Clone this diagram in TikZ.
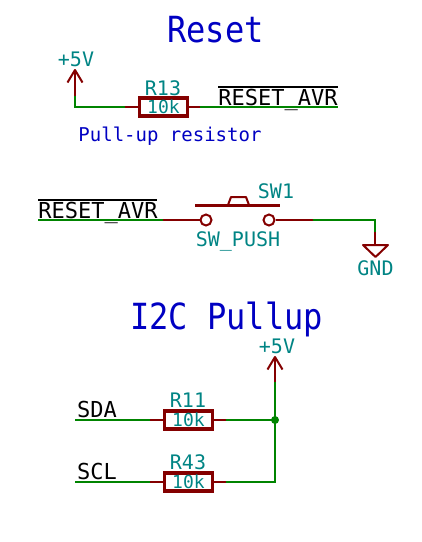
\documentclass[tikz,border=0pt]{standalone}
\usepackage{fontspec}
\setmainfont{DejaVu Sans Mono}
\newfontfamily\schfont{DejaVu Sans Mono}
\newfontfamily\titlefont[FakeStretch=0.89]{DejaVu Sans Mono}
\usetikzlibrary{positioning}
\definecolor{wiregreen}{RGB}{0,132,0}
\definecolor{partred}{RGB}{132,0,0}
\definecolor{fieldteal}{RGB}{0,132,132}
\definecolor{noteblue}{RGB}{0,0,194}

\begin{document}
\begin{tikzpicture}[
        x=1pt,
        y=-1pt,
        txt/.style={
          inner sep=0pt,
          anchor=base,
          font=\schfont\fontsize{20}{20}\selectfont
          },
        field/.style={
          txt,
          text=fieldteal
          },
        netname/.style={
          txt,
          text=black,
          font=\schfont\fontsize{22}{22}\selectfont
          },
        note/.style={
          txt,
          text=noteblue,
          font=\schfont\fontsize{19}{19}\selectfont
          },
        title/.style={
          txt,
          text=noteblue,
          font=\titlefont\fontsize{36}{36}\selectfont
          },
        res/.style={
          draw=partred,
          line width=3.5pt,
          minimum width=48pt,
          minimum height=18pt,
          inner sep=0pt,
          text=fieldteal,
          font=\schfont\fontsize{18}{18}\selectfont
          },
        contact/.style={
          draw=partred,
          line width=2pt,
          circle,
          minimum size=11pt,
          inner sep=0pt
          },
        wire/.style={
          draw=wiregreen,
          line width=2pt
          },
        pin/.style={
          draw=partred,
          line width=2pt
          },
        part/.style={
          draw=partred,
          line width=2pt,
          line join=round
          }
        ]
        \useasboundingbox (0,0) rectangle (422,542);

        % Reset
        \node[title] (resettitle) at (215.5,42) {Reset};
        \node[res] (rthirteen) at (163.5,107) {10k};
        \node[field] (rthirteenref) at (163,95) {R13};
        \node[field] (pwrone) at (76,66) {+5V};
        \node[netname] (netone) at (278,105) {RESET\_AVR};
        \node[note] (pullnote) at (170,141) {Pull-up resistor};
        \coordinate (pwronetip) at (75,70);
        \coordinate (pwronepin) at (75,96);
        \coordinate (pwronecorner) at (75,107);
        \coordinate (rthirteenl) at (125,107);
        \coordinate (rthirteenr) at (200,107);
        \coordinate (netoneend) at (338,107);
        \draw[wire] (pwronepin) -- (pwronecorner) -- (rthirteenl);
        \draw[pin] (rthirteenl) -- (rthirteen.west);
        \draw[pin] (rthirteen.east) -- (rthirteenr);
        \draw[wire] (rthirteenr) -- (netoneend);
        \draw[black,line width=2pt] (218,86.5) -- (338,86.5);

        % switch
        \node[netname] (nettwo) at (98,218) {RESET\_AVR};
        \node[contact] (swl) at (206,220) {};
        \node[contact] (swr) at (269,220) {};
        \node[field] (swref) at (276,198) {SW1};
        \node[field] (swval) at (238,246) {SW\_PUSH};
        \node[field] (gnd) at (375.5,275) {GND};
        \coordinate (nettwoend) at (38,220);
        \coordinate (swlpin) at (163,220);
        \coordinate (swrpin) at (313,220);
        \coordinate (gndcorner) at (375,220);
        \coordinate (gndpin) at (375,232);
        \coordinate (gndtop) at (375,245);
        \draw[wire] (nettwoend) -- (swlpin);
        \draw[pin] (swlpin) -- (swl);
        \draw[pin] (swr) -- (swrpin);
        \draw[wire] (swrpin) -- (gndcorner) -- (gndpin);
        \draw[pin] (gndpin) -- (gndtop);
        \draw[part] (363,245) -- (388,245) -- (375.5,257) -- cycle;
        \draw[partred,line width=3.5pt] (195,205.5) -- (280,205.5);
        \draw[part] (228,205) -- (231,197) -- (246,197) -- (249,205);
        \draw[black,line width=2pt] (38,199.5) -- (157,199.5);

        % I2C
        \node[title] (itwoctitle) at (226.5,329) {I2C Pullup};
        \node[field] (pwrtwo) at (277,353) {+5V};
        \coordinate (pwrtwotip) at (275,357);
        \coordinate (pwrtwopin) at (275,382);
        \coordinate (junction) at (275,420);
        \coordinate (bottomcorner) at (275,482);
        \foreach \rname/\rref/\rnet/\ry in {ra/R11/SDA/420,rb/R43/SCL/482}
        {
          \node[res] (\rname) at (188.5,\ry) {10k};
          \node[field] (\rname-ref) at (188,\ry-13) {\rref};
          \node[netname] (\rname-net) at (97,\ry-3) {\rnet};
          \coordinate (\rname-end) at (75,\ry);
          \coordinate (\rname-l) at (150,\ry);
          \coordinate (\rname-r) at (226,\ry);
          \draw[wire] (\rname-end) -- (\rname-l);
          \draw[pin] (\rname-l) -- (\rname.west);
          \draw[pin] (\rname.east) -- (\rname-r);
        }
        \draw[wire] (ra-r) -- (junction);
        \draw[wire] (rb-r) -- (bottomcorner) -- (pwrtwopin);
        \fill[wiregreen] (junction) circle (4);

        % power arrows
        \foreach \tip/\base in {pwronetip/pwronepin,pwrtwotip/pwrtwopin}
        {
          \draw[pin] (\tip) -- (\base);
          \draw[part] ([shift={(-7.5,12.5)}]\tip) -- (\tip) -- ([shift={(7.5,12.5)}]\tip);
        }
        \end{tikzpicture}
\end{document}
